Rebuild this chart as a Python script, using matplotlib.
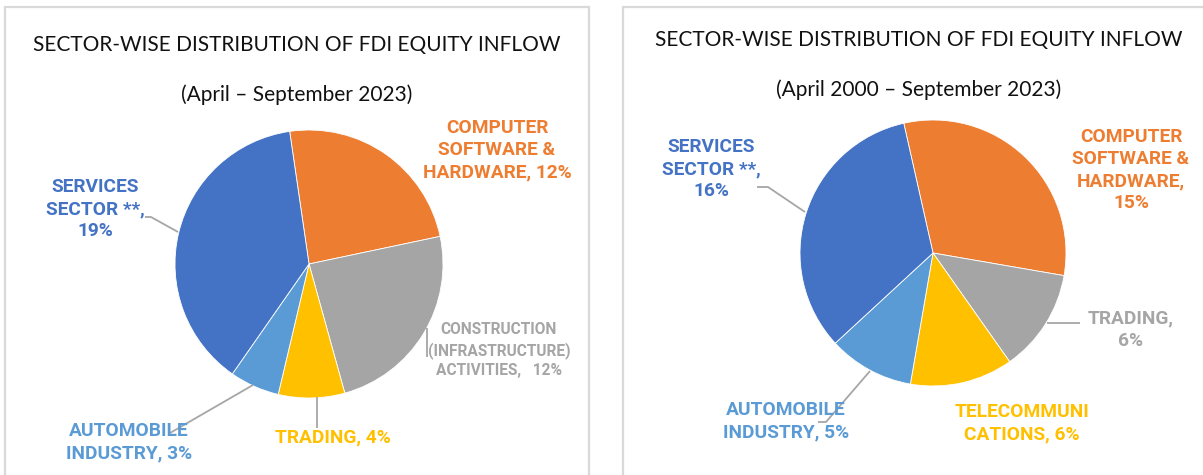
import matplotlib
matplotlib.use("Agg")
import matplotlib.pyplot as plt
from matplotlib.patches import Rectangle

# sectors, clockwise from the top of each pie
left_sectors = ["COMPUTER SOFTWARE & HARDWARE", "CONSTRUCTION (INFRASTRUCTURE) ACTIVITIES",
                "TRADING", "AUTOMOBILE INDUSTRY", "SERVICES SECTOR **"]
left_share = [12, 12, 4, 3, 19]

right_sectors = ["COMPUTER SOFTWARE & HARDWARE", "TRADING", "TELECOMMUNICATIONS",
                 "AUTOMOBILE INDUSTRY", "SERVICES SECTOR **"]
right_share = [15, 6, 6, 5, 16]

left_colors = ["#ED7D31", "#A5A5A5", "#FFC000", "#5B9BD5", "#4472C4"]
right_colors = ["#ED7D31", "#A5A5A5", "#FFC000", "#5B9BD5", "#4472C4"]

titles = ["SECTOR-WISE DISTRIBUTION OF FDI EQUITY INFLOW"] * 2
periods = ["(April \u2013 September 2023)", "(April 2000 \u2013 September 2023)"]

W, H = 1203, 475
fig = plt.figure(figsize=(W / 100, H / 100), dpi=100)
ax = fig.add_axes([0, 0, 1, 1])


def Y(y):
    return H - y


# panel frames
ax.add_patch(Rectangle((4.5, -10), 584.5, Y(7) + 10, fill=False, ec="#D9D9D9", lw=1.6))
ax.add_patch(Rectangle((623, -10), 600, Y(7) + 10, fill=False, ec="#D9D9D9", lw=1.6))

# pies
ax.pie(left_share, colors=left_colors, startangle=98.3, counterclock=False,
       center=(309, Y(264)), radius=134, frame=True,
       wedgeprops=dict(edgecolor="white", linewidth=0.6))
ax.pie(right_share, colors=right_colors, startangle=102.7, counterclock=False,
       center=(933, Y(253)), radius=133, frame=True,
       wedgeprops=dict(edgecolor="white", linewidth=0.6))
ax.set_xlim(0, W)
ax.set_ylim(0, H)
ax.set_aspect("equal")
ax.axis("off")

# titles
for cx, t, p, ty, py in [(297, titles[0], periods[0], 45, 95),
                         (919, titles[1], periods[1], 40, 90)]:
    ax.text(cx, Y(ty), t, ha="center", va="center", fontsize=15,
            family="Lato", color="#111111")
    ax.text(cx, Y(py), p, ha="center", va="center", fontsize=15,
            family="Lato", color="#111111")


def label(x, y, s, color, size=13.8, ls=1.3):
    ax.text(x, Y(y), s, ha="center", va="center", fontsize=size, family="Roboto",
            fontweight="bold", color=color, linespacing=ls)


def leader(xs, ys):
    ax.plot(xs, [Y(v) for v in ys], color="#A6A6A6", lw=1.3, solid_capstyle="butt")


# left labels
label(497, 150, f"COMPUTER\nSOFTWARE &\nHARDWARE, {left_share[0]}%", left_colors[0])
label(499, 350, f"CONSTRUCTION\n(INFRASTRUCTURE)\nACTIVITIES,   {left_share[1]}%",
      left_colors[1], size=11.2, ls=1.33)
label(333, 437, f"TRADING, {left_share[2]}%", left_colors[2])
label(129, 442, f"AUTOMOBILE\nINDUSTRY, {left_share[3]}%", left_colors[3])
label(95, 209, f"SERVICES\nSECTOR **,\n{left_share[4]}%", left_colors[4])

leader([145, 151, 178], [217, 217, 232])
leader([427, 427], [328, 357])
leader([317, 317], [397, 428])
leader([253, 170], [385, 433])

# right labels
label(1131, 170, f"COMPUTER\nSOFTWARE &\nHARDWARE,\n{right_share[0]}%", right_colors[0])
label(1131, 330, f"TRADING,\n{right_share[1]}%", right_colors[1])
label(1022, 423, f"TELECOMMUNI\nCATIONS, {right_share[2]}%", right_colors[2])
label(786, 421, f"AUTOMOBILE\nINDUSTRY, {right_share[3]}%", right_colors[3])
label(711, 169, f"SERVICES\nSECTOR **,\n{right_share[4]}%", right_colors[4])

leader([757, 768, 805], [187, 187, 212])
leader([1047, 1080], [323, 323])
leader([870, 826, 818], [371, 422, 422])

fig.savefig("out.png", dpi=100)
